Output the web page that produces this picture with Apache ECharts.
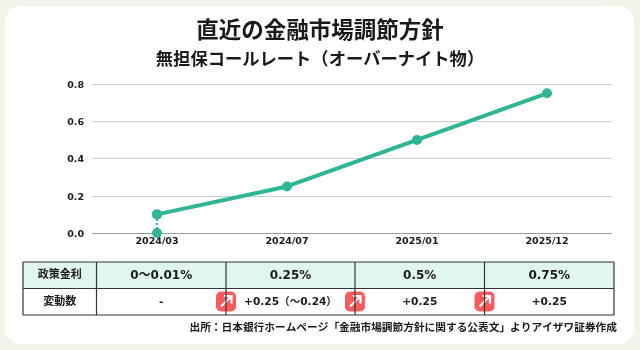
<!DOCTYPE html>
<html>
<head>
<meta charset="utf-8">
<style>
  html, body { margin: 0; padding: 0; background: #f3f3ea; }
  #chart { width: 640px; height: 350px; }
</style>
<script src="https://cdn.jsdelivr.net/npm/echarts@6/dist/echarts.min.js"></script>
</head>
<body>
<div id="chart"></div>
<script>
var titleText = '直近の金融市場調節方針';
var subTitleText = '無担保コールレート（オーバーナイト物）';
var sourceText = '出所：日本銀行ホームページ「金融市場調節方針に関する公表文」よりアイザワ証券作成';

var dates = ['2024/03', '2024/07', '2025/01', '2025/12'];
var rates = [0.1, 0.25, 0.5, 0.75];
// 2024/03 の点線部分（0〜0.1）
var firstStep = [0, 0.1];

var rowHeads = ['政策金利', '変動数'];
var policyRates = ['0〜0.01%', '0.25%', '0.5%', '0.75%'];
var changes = ['-', '+0.25（〜0.24）', '+0.25', '+0.25'];
var arrowFlags = [false, true, true, true];

var jpFont = '"Noto Sans CJK JP", sans-serif';
var numFont = '"DejaVu Sans", "Noto Sans CJK JP", sans-serif';
var green = '#2fb593';
var ink = '#1a1a1a';

// 表の罫線位置
var colX = [23, 96.5, 226, 355, 484.5, 614];
var rowY = [262, 288.5, 315];

function cellText(x, y, text, size) {
  return {
    type: 'text',
    x: x,
    y: y,
    z: 5,
    style: {
      text: text,
      fill: ink,
      font: 'bold ' + size + 'px ' + numFont,
      align: 'center',
      verticalAlign: 'middle'
    }
  };
}

function buildTable() {
  var els = [];
  // 1行目の背景
  els.push({
    type: 'rect', z: 1,
    shape: { x: colX[0], y: rowY[0], width: colX[5] - colX[0], height: rowY[1] - rowY[0] },
    style: { fill: '#e2f6f1' }
  });
  // 罫線
  for (var i = 0; i < colX.length; i++) {
    els.push({
      type: 'line', z: 2,
      shape: { x1: colX[i], y1: rowY[0], x2: colX[i], y2: rowY[2] },
      style: { stroke: '#333', lineWidth: 1.2 }
    });
  }
  for (var j = 0; j < rowY.length; j++) {
    els.push({
      type: 'line', z: 2,
      shape: { x1: colX[0], y1: rowY[j], x2: colX[5], y2: rowY[j] },
      style: { stroke: '#333', lineWidth: 1.2 }
    });
  }
  // 文字
  var headY = [275.5, 302.5];
  els.push(cellText((colX[0] + colX[1]) / 2, headY[0], rowHeads[0], 11));
  els.push(cellText((colX[0] + colX[1]) / 2, headY[1], rowHeads[1], 11));
  for (var k = 0; k < 4; k++) {
    var cx = (colX[k + 1] + colX[k + 2]) / 2;
    els.push(cellText(cx, headY[0], policyRates[k], 12));
    els.push(cellText(cx, headY[1], changes[k], 10.6));
    if (arrowFlags[k]) {
      els.push(arrowIcon(colX[k + 1], 301.5));
    }
  }
  return els;
}

// 赤い矢印アイコン
function arrowIcon(cx, cy) {
  return {
    type: 'group', x: cx, y: cy, z: 6,
    children: [
      { type: 'rect', shape: { x: -10, y: -10, width: 20, height: 20, r: 5 }, style: { fill: '#f95c5f' } },
      { type: 'line', shape: { x1: -5, y1: 5, x2: 5, y2: -5 }, style: { stroke: '#fff', lineWidth: 2.2 } },
      { type: 'polyline', shape: { points: [[-2, -5.5], [5.5, -5.5], [5.5, 2]] }, style: { stroke: '#fff', lineWidth: 2.2, fill: 'none' } }
    ]
  };
}

var chart = echarts.init(document.getElementById('chart'));

var option = {
  backgroundColor: '#f3f3ea',
  animation: false,
  title: [
    {
      text: titleText, left: 'center', top: 13,
      textStyle: { fontFamily: jpFont, fontSize: 22.5, fontWeight: 'bold', color: ink }
    },
    {
      text: subTitleText, left: 'center', top: 45,
      textStyle: { fontFamily: jpFont, fontSize: 17.3, fontWeight: 'bold', color: ink }
    }
  ],
  grid: { left: 92, right: 28, top: 84, height: 149 },
  xAxis: {
    type: 'category',
    data: dates,
    axisLine: { lineStyle: { color: '#999', width: 1 } },
    axisTick: { show: false },
    axisLabel: { color: ink, fontFamily: numFont, fontWeight: 'bold', fontSize: 9.5, margin: 4 }
  },
  yAxis: {
    type: 'value',
    min: 0,
    max: 0.8,
    interval: 0.2,
    axisLine: { show: false },
    axisTick: { show: false },
    splitLine: { lineStyle: { color: '#cccccc', width: 1 } },
    axisLabel: {
      color: ink, fontFamily: numFont, fontWeight: 'bold', fontSize: 9.5, margin: 8,
      verticalAlign: 'top',
      lineHeight: 3,
      formatter: function (v) { return v.toFixed(1); }
    }
  },
  series: [
    {
      type: 'line',
      data: firstStep.map(function (v) { return [0, v]; }),
      symbol: 'circle',
      symbolSize: 10,
      itemStyle: { color: green },
      lineStyle: { color: green, width: 2, type: [2, 2] },
      silent: true
    },
    {
      type: 'line',
      data: rates,
      symbol: 'circle',
      symbolSize: 10,
      itemStyle: { color: green },
      lineStyle: { color: green, width: 4 },
      silent: true
    }
  ],
  graphic: [
    {
      type: 'rect', z: -10, silent: true,
      shape: { x: 5, y: 6, width: 629, height: 338, r: 16 },
      style: { fill: '#ffffff' }
    },
    {
      type: 'text', z: 5, x: 617, y: 327,
      style: {
        text: sourceText, fill: ink,
        font: 'bold 10.7px ' + jpFont,
        align: 'right', verticalAlign: 'middle'
      }
    }
  ].concat(buildTable())
};

chart.setOption(option);
</script>
</body>
</html>
